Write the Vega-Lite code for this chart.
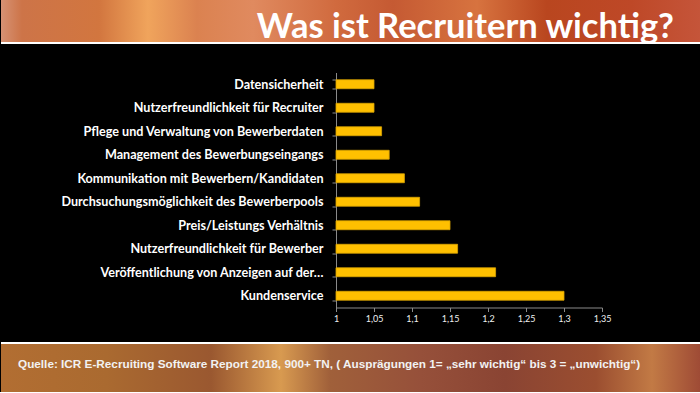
{
  "$schema": "https://vega.github.io/schema/vega-lite/v6.json",
  "background": "#000000",
  "padding": 0,
  "spacing": 22.5,
  "config": {
    "view": {"stroke": null},
    "font": "Lato"
  },
  "vconcat": [
    {
      "width": 700,
      "height": 44,
      "view": {
        "stroke": null,
        "fill": {
          "gradient": "linear", "x1": 0, "x2": 1, "y1": 0, "y2": 0,
          "stops": [
            {"offset": 0, "color": "#D69274"},
            {"offset": 0.03, "color": "#CD7448"},
            {"offset": 0.14, "color": "#D2763F"},
            {"offset": 0.21, "color": "#F0A45C"},
            {"offset": 0.28, "color": "#DB8250"},
            {"offset": 0.36, "color": "#E08A5F"},
            {"offset": 0.48, "color": "#D06A3E"},
            {"offset": 0.56, "color": "#C55A33"},
            {"offset": 0.68, "color": "#D7733F"},
            {"offset": 0.78, "color": "#B9461F"},
            {"offset": 0.9, "color": "#BE4827"},
            {"offset": 1, "color": "#C5553A"}
          ]
        }
      },
      "title": {
        "text": "Was ist Recruitern wichtig?",
        "anchor": "end",
        "orient": "top",
        "offset": -45,
        "dx": -28,
        "font": "Lato",
        "fontSize": 34.5,
        "fontWeight": "bold",
        "color": "#FFFFFF"
      },
      "data": {"values": [{}]},
      "mark": {"type": "rule", "color": "#FFFFFF", "strokeWidth": 2, "yOffset": -1},
      "encoding": {"y": {"value": "height"}}
    },
    {
      "spacing": 13.5,
      "vconcat": [
        {
          "width": 700,
          "height": 235,
          "data": {
            "values": [
              {"kriterium": "Datensicherheit", "wert": 1.05},
              {"kriterium": "Nutzerfreundlichkeit für Recruiter", "wert": 1.05},
              {"kriterium": "Pflege und Verwaltung von Bewerberdaten", "wert": 1.06},
              {"kriterium": "Management des Bewerbungseingangs", "wert": 1.07},
              {"kriterium": "Kommunikation mit Bewerbern/Kandidaten", "wert": 1.09},
              {"kriterium": "Durchsuchungsmöglichkeit des Bewerberpools", "wert": 1.11},
              {"kriterium": "Preis/Leistungs Verhältnis", "wert": 1.15},
              {"kriterium": "Nutzerfreundlichkeit für Bewerber", "wert": 1.16},
              {"kriterium": "Veröffentlichung von Anzeigen auf der…", "wert": 1.21},
              {"kriterium": "Kundenservice", "wert": 1.3}
            ]
          },
          "mark": {"type": "bar", "color": "#FFC000", "stroke": "#D9A300", "strokeWidth": 0.8},
          "encoding": {
            "y": {
              "field": "kriterium",
              "type": "nominal",
              "sort": null,
              "scale": {"paddingInner": 0.62, "paddingOuter": 0.31},
              "axis": {
                "title": null,
                "offset": -335,
                "domainColor": "#8A8A8A",
                "tickColor": "#8A8A8A",
                "tickSize": 4,
                "tickBand": "extent",
                "labelPadding": 9,
                "labelColor": "#FFFFFF",
                "labelFont": "Lato",
                "labelFontSize": 12.6,
                "labelFontWeight": "bold",
                "labelLimit": 330,
                "minExtent": 0
              }
            },
            "x": {
              "field": "wert",
              "type": "quantitative",
              "scale": {"domain": [1, 1.35], "range": [335, 601], "zero": false, "nice": false},
              "axis": {
                "title": null,
                "values": [1, 1.05, 1.1, 1.15, 1.2, 1.25, 1.3, 1.35],
                "labelExpr": "replace(format(datum.value, '.2~f'), '.', ',')",
                "grid": false,
                "domainColor": "#8A8A8A",
                "tickColor": "#8A8A8A",
                "tickSize": 4,
                "labelPadding": 3,
                "labelColor": "#F0F0F0",
                "labelFont": "Lato",
                "labelFontSize": 9,
                "labelFlush": false,
                "labelOverlap": false,
                "minExtent": 21,
                "maxExtent": 21
              }
            },
            "x2": {"datum": 1}
          }
        },
        {
          "width": 700,
          "height": 50,
          "view": {
            "stroke": null,
            "fill": {
              "gradient": "linear", "x1": 0, "x2": 1, "y1": 0, "y2": 0,
              "stops": [
                {"offset": 0, "color": "#B26E32"},
                {"offset": 0.15, "color": "#AA6A30"},
                {"offset": 0.3, "color": "#9A5830"},
                {"offset": 0.4, "color": "#D89A50"},
                {"offset": 0.47, "color": "#A0603A"},
                {"offset": 0.6, "color": "#96503A"},
                {"offset": 0.72, "color": "#8A4433"},
                {"offset": 0.85, "color": "#9B4E30"},
                {"offset": 0.93, "color": "#C27A45"},
                {"offset": 1, "color": "#9E4A35"}
              ]
            }
          },
          "title": {
            "text": "Quelle: ICR E-Recruiting Software Report 2018, 900+ TN, ( Ausprägungen 1= „sehr wichtig“ bis 3 = „unwichtig“)",
            "anchor": "start",
            "orient": "top",
            "offset": -29,
            "dx": 18,
            "font": "Liberation Sans",
            "fontSize": 11.75,
            "fontWeight": "bold",
            "color": "#F2F2F2"
          },
          "data": {"values": [{}]},
          "mark": {"type": "rule", "color": "#FFFFFF", "strokeWidth": 2, "yOffset": 1},
          "encoding": {"y": {"value": 0}}
        }
      ]
    }
  ]
}
